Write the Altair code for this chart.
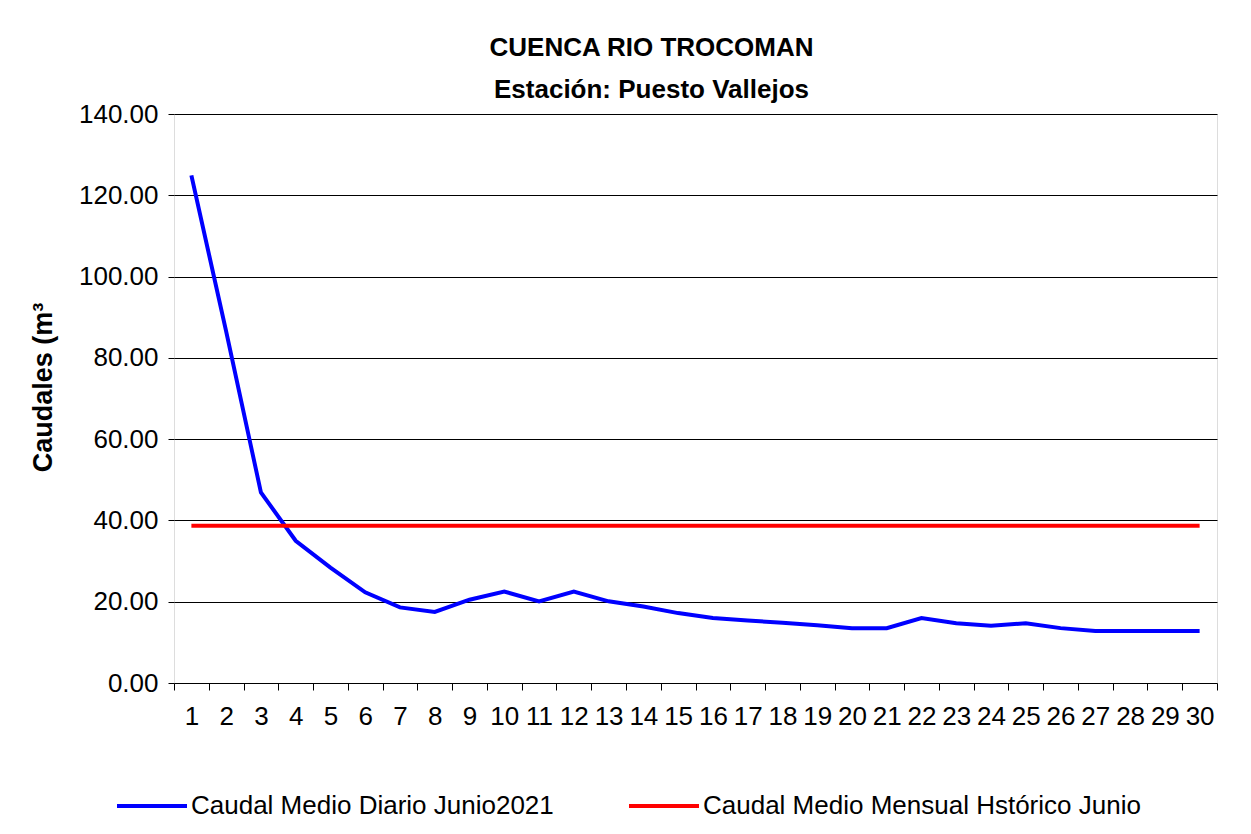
import altair as alt
import pandas as pd

days = list(range(1, 31))
caudal_diario = [124.9, 86.5, 46.9, 35.0, 28.4, 22.3, 18.6, 17.5, 20.5, 22.5,
                 20.1, 22.5, 20.1, 18.8, 17.2, 16.0, 15.4, 14.8, 14.2, 13.5,
                 13.5, 16.0, 14.7, 14.1, 14.7, 13.5, 12.8, 12.8, 12.8, 12.8]
caudal_historico = [38.7] * 30
series_names = ["Caudal Medio Diario Junio2021", "Caudal Medio Mensual Hstórico Junio"]
series_colors = ["#0000FF", "#FF0000"]
y_ticks = [0, 20, 40, 60, 80, 100, 120, 140]
x_tick_edges = [d - 0.5 for d in days] + [30.5]

rows = []
for d, v in zip(days, caudal_diario):
    rows.append({"dia": d, "caudal": v, "serie": series_names[0]})
for d, v in zip(days, caudal_historico):
    rows.append({"dia": d, "caudal": v, "serie": series_names[1]})
df = pd.DataFrame(rows)

FONT = "Liberation Sans"
W, H = 1043, 569
half_band = W / 30 / 2

chart = alt.Chart(df).mark_line(strokeWidth=4).encode(
    x=alt.X("dia:Q",
            scale=alt.Scale(domain=[0.5, 30.5], nice=False, zero=False),
            axis=alt.Axis(values=x_tick_edges, title=None, grid=False, domain=False,
                          tickSize=7, tickColor="black", tickWidth=1,
                          labelExpr="datum.value < 30 ? format(datum.value + 0.5, 'd') : ''",
                          labelOffset=half_band, labelPadding=13, labelFontSize=26,
                          labelFont=FONT, labelColor="black", labelOverlap=False,
                          labelBound=False, labelFlush=False)),
    y=alt.Y("caudal:Q",
            scale=alt.Scale(domain=[0, 140], nice=False),
            axis=alt.Axis(values=y_ticks, format=".2f", title="Caudales (m³",
                          grid=True, gridColor="black", gridWidth=1, domain=False,
                          tickSize=6, tickColor="black", labelPadding=10,
                          labelFontSize=26, labelFont=FONT, labelColor="black",
                          titleFont=FONT, titleFontSize=27, titleFontWeight="bold",
                          titleColor="black", titleX=-131, titleY=273,
                          titleAngle=270, titleAlign="center", titleBaseline="middle")),
    color=alt.Color("serie:N",
                    scale=alt.Scale(domain=series_names, range=series_colors),
                    legend=alt.Legend(orient="none", legendX=-59, legendY=655,
                                      direction="horizontal", title=None,
                                      symbolType="stroke", symbolSize=4900,
                                      symbolStrokeWidth=4, labelFontSize=26,
                                      labelFont=FONT, labelColor="black",
                                      labelOffset=2, columnPadding=67,
                                      labelLimit=700)),
).properties(
    width=W, height=H,
    title=alt.TitleParams(["CUENCA RIO TROCOMAN", "Estación: Puesto Vallejos"],
                          font=FONT, fontSize=26, fontWeight="bold", color="black",
                          anchor="middle", dx=-44, offset=-2, lineHeight=42),
    autosize=alt.AutoSizeParams(type="none"),
    padding={"left": 166, "top": 106, "right": 26, "bottom": 150},
).configure_view(stroke="#808080", strokeWidth=2).configure(background="white")

chart.save("out.html", embed_options={"renderer": "svg", "actions": False})
